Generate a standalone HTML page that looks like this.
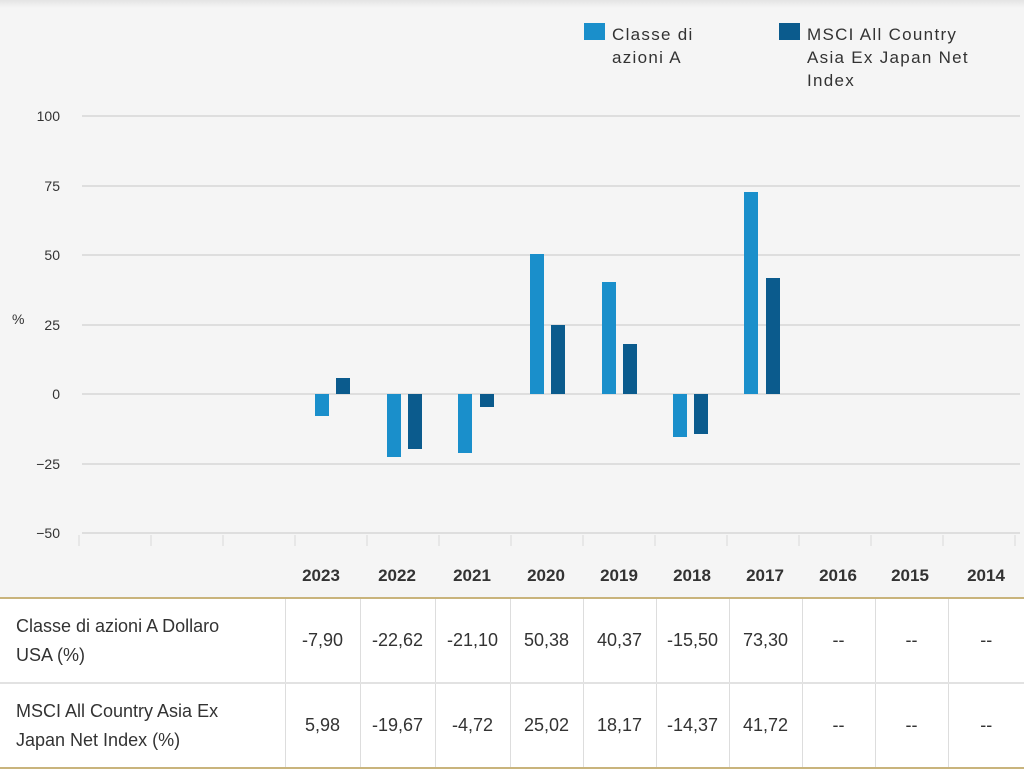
<!DOCTYPE html>
<html><head><meta charset="utf-8"><style>
body{margin:0;width:1024px;height:769px;overflow:hidden;background:#f5f5f5;font-family:"Liberation Sans",sans-serif;position:relative}
.top{position:absolute;left:0;top:0;width:1024px;height:8px;background:linear-gradient(#e4e4e4,#f5f5f5)}
svg{position:absolute;left:0;top:0}
table{position:absolute;left:0;top:597px;width:1024px;border-collapse:collapse;background:#fff;border-top:2px solid #c9b47c;border-bottom:2px solid #c9b47c}
td{border-left:1px solid #ddd;text-align:center;font-size:18px;color:#333;height:83px;padding:0}
td:first-child{border-left:none;text-align:left;padding-left:16px;line-height:29px}
tr+tr td{border-top:2px solid #e2e2e2}
</style></head><body>
<div class="top"></div>
<svg width="1024" height="600" font-family="Liberation Sans, sans-serif">
<g stroke="#d6d6d6" stroke-width="1.5">
<line x1="82" x2="1020" y1="116" y2="116"/><line x1="82" x2="1020" y1="186" y2="186"/><line x1="82" x2="1020" y1="255" y2="255"/><line x1="82" x2="1020" y1="325" y2="325"/><line x1="82" x2="1020" y1="394" y2="394"/><line x1="82" x2="1020" y1="464" y2="464"/><line x1="82" x2="1020" y1="533" y2="533"/>
</g>
<g stroke="#e2e2e2" stroke-width="1.5">
<line x1="79" x2="79" y1="535" y2="546"/><line x1="151" x2="151" y1="535" y2="546"/><line x1="223" x2="223" y1="535" y2="546"/><line x1="295" x2="295" y1="535" y2="546"/><line x1="367" x2="367" y1="535" y2="546"/><line x1="439" x2="439" y1="535" y2="546"/><line x1="511" x2="511" y1="535" y2="546"/><line x1="583" x2="583" y1="535" y2="546"/><line x1="655" x2="655" y1="535" y2="546"/><line x1="727" x2="727" y1="535" y2="546"/><line x1="799" x2="799" y1="535" y2="546"/><line x1="871" x2="871" y1="535" y2="546"/><line x1="943" x2="943" y1="535" y2="546"/><line x1="1015" x2="1015" y1="535" y2="546"/>
</g>
<g font-size="14" fill="#333" text-anchor="end">
<text x="60" y="121">100</text><text x="60" y="191">75</text><text x="60" y="260">50</text><text x="60" y="330">25</text><text x="60" y="399">0</text><text x="60" y="469">−25</text><text x="60" y="538">−50</text>
</g>
<text x="12" y="324" font-size="14" fill="#333">%</text>
<g fill="#1a8fcb">
<rect x="315" y="394" width="14" height="22"/><rect x="387" y="394" width="14" height="63"/><rect x="458" y="394" width="14" height="59"/><rect x="530" y="254" width="14" height="140"/><rect x="602" y="282" width="14" height="112"/><rect x="673" y="394" width="14" height="43"/><rect x="744" y="192" width="14" height="202"/>
</g>
<g fill="#0b5b8d">
<rect x="336" y="378" width="14" height="16"/><rect x="408" y="394" width="14" height="55"/><rect x="480" y="394" width="14" height="13"/><rect x="551" y="325" width="14" height="69"/><rect x="623" y="344" width="14" height="50"/><rect x="694" y="394" width="14" height="40"/><rect x="766" y="278" width="14" height="116"/>
</g>
<rect x="584" y="23" width="21" height="17" fill="#1a8fcb"/>
<rect x="779" y="23" width="21" height="17" fill="#0b5b8d"/>
<g font-size="17" fill="#333" letter-spacing="1.3">
<text x="612" y="40">Classe di</text><text x="612" y="63">azioni A</text>
<text x="807" y="40">MSCI All Country</text><text x="807" y="63">Asia Ex Japan Net</text><text x="807" y="86">Index</text>
</g>
<g font-size="17" font-weight="bold" fill="#333" text-anchor="middle">
<text x="321" y="581">2023</text><text x="397" y="581">2022</text><text x="472" y="581">2021</text><text x="546" y="581">2020</text><text x="619" y="581">2019</text><text x="692" y="581">2018</text><text x="765" y="581">2017</text><text x="838" y="581">2016</text><text x="910" y="581">2015</text><text x="986" y="581">2014</text>
</g>
</svg>
<table>
<colgroup><col style="width:285px"><col style="width:75px"><col style="width:75px"><col style="width:75px"><col style="width:73px"><col style="width:73px"><col style="width:73px"><col style="width:73px"><col style="width:73px"><col style="width:73px"><col></colgroup>
<tr><td>Classe di azioni A Dollaro<br>USA (%)</td><td>-7,90</td><td>-22,62</td><td>-21,10</td><td>50,38</td><td>40,37</td><td>-15,50</td><td>73,30</td><td>--</td><td>--</td><td>--</td></tr>
<tr><td>MSCI All Country Asia Ex<br>Japan Net Index (%)</td><td>5,98</td><td>-19,67</td><td>-4,72</td><td>25,02</td><td>18,17</td><td>-14,37</td><td>41,72</td><td>--</td><td>--</td><td>--</td></tr>
</table>
</body></html>
